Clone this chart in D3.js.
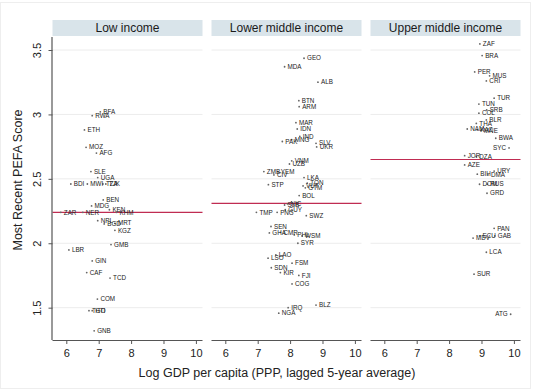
<!DOCTYPE html>
<html>
<head>
<meta charset="utf-8">
<script src="https://cdn.jsdelivr.net/npm/d3@7/dist/d3.min.js"></script>
<style>
  html, body { margin: 0; padding: 0; background: #ffffff; }
  svg { display: block; font-family: "Liberation Sans", Arial, sans-serif; }
</style>
</head>
<body>
<svg id="chart" width="540" height="392"></svg>
<script>
// ---------------- Data ----------------
const panelTitles = ["Low income", "Lower middle income", "Upper middle income"];
const xTicks = [6, 7, 8, 9, 10];
const yTicks = [1.5, 2, 2.5, 3, 3.5];
const groupMeans = [2.24, 2.31, 2.65];

const lowCodes = ["BFA","RWA","ETH","MOZ","AFG","SLE","UGA","BDI","MWI","TZA","TJK","BEN","MDG","ZAR","NER","KEN","KHM","NPL","BGD","MRT","KGZ","GMB","LBR","GIN","CAF","TCD","COM","TGO","HTI","GNB"];
const lowGdp   = [7.05,6.80,6.56,6.61,6.93,6.76,6.97,6.14,6.65,7.13,7.22,7.14,6.78,5.83,6.51,7.33,7.55,6.97,7.17,7.50,7.50,7.38,6.08,6.80,6.63,7.35,6.96,6.70,6.80,6.86];
const lowPefa  = [3.02,2.99,2.88,2.745,2.70,2.556,2.51,2.46,2.46,2.46,2.46,2.336,2.29,2.24,2.24,2.26,2.24,2.175,2.15,2.155,2.10,1.99,1.948,1.863,1.772,1.73,1.567,1.477,1.477,1.32];

const lmCodes = ["GEO","MDA","ALB","BTN","ARM","MAR","IDN","PAK","MNG","IND","SLV","UKR","VNM","UZB","ZMB","YEM","CIV","STP","LKA","TON","VUT","GTM","BOL","NIC","SLB","GUY","TMP","PNG","SWZ","SEN","GHA","CMR","PHL","WSM","SYR","LAO","LSO","FSM","SDN","KIR","FJI","COG","BLZ","IRQ","NGA"];
const lmGdp   = [8.43,7.83,8.86,8.27,8.28,8.18,8.22,7.76,8.05,8.30,8.80,8.82,8.05,7.98,7.19,7.62,7.50,7.33,8.43,8.53,8.40,8.47,8.28,7.92,7.83,7.85,6.96,7.60,8.50,7.41,7.36,7.70,8.13,8.37,8.24,7.56,7.32,8.06,7.42,7.70,8.27,8.06,8.80,7.94,7.65];
const lmPefa  = [3.436,3.37,3.25,3.107,3.06,2.936,2.887,2.79,2.805,2.83,2.776,2.748,2.64,2.615,2.556,2.556,2.53,2.455,2.51,2.466,2.445,2.43,2.37,2.305,2.297,2.26,2.24,2.24,2.214,2.13,2.08,2.085,2.065,2.057,2.00,1.91,1.884,1.845,1.81,1.772,1.75,1.684,1.52,1.50,1.457];

const umCodes = ["ZAF","BRA","PER","MUS","CRI","TUR","TUN","SRB","COL","BLR","THA","NAM","KAZ","MNE","BWA","SYC","JOR","DZA","AZE","URY","BIH","DMA","DOM","RUS","GRD","PAN","MDV","ECU","GAB","LCA","SUR","ATG"];
const umGdp   = [8.95,9.02,8.79,9.25,9.15,9.39,8.92,9.16,8.92,9.15,8.84,8.56,8.87,8.98,9.44,9.85,8.48,8.84,8.48,9.39,8.87,9.20,8.94,9.18,9.17,9.39,8.74,8.94,9.41,9.15,8.77,9.90];
const umPefa  = [3.547,3.457,3.33,3.30,3.26,3.126,3.08,3.035,3.01,2.957,2.93,2.887,2.88,2.875,2.815,2.74,2.68,2.672,2.608,2.56,2.536,2.53,2.458,2.458,2.388,2.116,2.04,2.057,2.057,1.93,1.76,1.449];

const leftLabelCodes = ["SYC","ATG"];

// ---------------- Layout ----------------
const svg = d3.select("#chart");
const W = 540, H = 392;
const panelW = 150, panelStep = 159, firstLeft = 52.5;
const plotTop = 37, plotBottom = 340;
const headerTop = 20, headerH = 16;

svg.append("rect").attr("width", W).attr("height", H).attr("fill", "#ffffff");
svg.append("rect").attr("x", 0.5).attr("y", 2.5).attr("width", 530).attr("height", 386)
  .attr("fill", "none").attr("stroke", "#eeeeee").attr("stroke-width", 1);

const y = d3.scaleLinear().domain([1.249, 3.601]).range([plotBottom, plotTop]);

const groups = [
  {codes: lowCodes, gdp: lowGdp, pefa: lowPefa},
  {codes: lmCodes, gdp: lmGdp, pefa: lmPefa},
  {codes: umCodes, gdp: umGdp, pefa: umPefa}
];

groups.forEach((g, i) => {
  const left = firstLeft + i * panelStep;
  const x = d3.scaleLinear().domain([5.574, 10.204]).range([left, left + panelW]);
  const p = svg.append("g");

  // gridlines
  p.selectAll("line.grid").data(yTicks).join("line")
    .attr("x1", left).attr("x2", left + panelW)
    .attr("y1", d => y(d)).attr("y2", d => y(d))
    .attr("stroke", "#ececec").attr("stroke-width", 1);

  // header strip
  p.append("rect").attr("x", left).attr("y", headerTop).attr("width", panelW).attr("height", headerH)
    .attr("fill", "#d9e4ea");
  p.append("text").attr("x", left + panelW / 2).attr("y", headerTop + 12)
    .attr("text-anchor", "middle").attr("font-size", 12).attr("fill", "#1a1a1a")
    .text(panelTitles[i]);

  // group mean line
  p.append("line")
    .attr("x1", left).attr("x2", left + panelW)
    .attr("y1", y(groupMeans[i])).attr("y2", y(groupMeans[i]))
    .attr("stroke", "#c02c52").attr("stroke-width", 1.2);

  // x axis
  const xAxis = d3.axisBottom(x).tickValues(xTicks).tickSize(4).tickPadding(5).tickFormat(d3.format("d"));
  const ax = p.append("g").attr("transform", `translate(0,${plotBottom})`).call(xAxis);
  ax.select(".domain").attr("d", `M${left},0.5H${left + panelW}`).attr("stroke", "#555").attr("stroke-width", 1.2);
  ax.selectAll(".tick line").attr("stroke", "#555");
  ax.selectAll(".tick text").attr("font-size", 11).attr("fill", "#222")
    .attr("font-family", "'Liberation Sans Narrow', 'Liberation Sans', Arial, sans-serif");

  // points
  const data = g.codes.map((c, k) => ({code: c, gdp: g.gdp[k], pefa: g.pefa[k]}));
  p.selectAll("circle.pt").data(data).join("circle")
    .attr("cx", d => x(d.gdp)).attr("cy", d => y(d.pefa)).attr("r", 0.9)
    .attr("fill", "#666");
  p.selectAll("text.lbl").data(data).join("text")
    .attr("x", d => leftLabelCodes.includes(d.code) ? x(d.gdp) - 3 : x(d.gdp) + 3)
    .attr("y", d => y(d.pefa))
    .attr("dy", "0.35em")
    .attr("text-anchor", d => leftLabelCodes.includes(d.code) ? "end" : "start")
    .attr("font-size", 6.3).attr("fill", "#222")
    .text(d => d.code);
});

// y axis (first panel only)
const yAxis = d3.axisLeft(y).tickValues(yTicks).tickSize(4).tickPadding(4).tickFormat(d3.format("~g"));
const ya = svg.append("g").attr("transform", `translate(${firstLeft},0)`).call(yAxis);
ya.select(".domain").attr("d", `M-0.5,${plotTop}V${plotBottom}`).attr("stroke", "#555").attr("stroke-width", 1.2);
ya.selectAll(".tick line").attr("stroke", "#555");
ya.selectAll(".tick text")
  .attr("font-size", 11).attr("fill", "#222")
  .attr("text-anchor", "middle").attr("dy", 0)
  .attr("transform", "translate(-12,0) rotate(-90)")
  .attr("x", 0).attr("y", 0);

// axis titles
svg.append("text").attr("x", 277).attr("y", 377).attr("text-anchor", "middle")
  .attr("font-size", 12.5).attr("fill", "#222")
  .text("Log GDP per capita (PPP, lagged 5-year average)");
svg.append("text").attr("transform", "translate(22,180) rotate(-90)").attr("text-anchor", "middle")
  .attr("font-size", 12.5).attr("fill", "#222")
  .text("Most Recent PEFA Score");
</script>
</body>
</html>
